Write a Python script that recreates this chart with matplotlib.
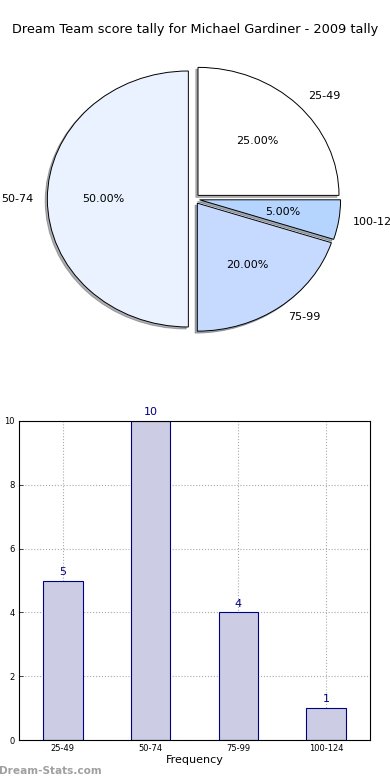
import matplotlib
matplotlib.use("Agg")
import matplotlib.pyplot as plt
import numpy as np

title = "Dream Team score tally for Michael Gardiner - 2009 tally"
categories = ["25-49", "50-74", "75-99", "100-124"]
counts = [5, 10, 4, 1]
pie_colors = ["#FFFFFF", "#EBF2FF", "#C6D9FF", "#B5D5FF"]

W, H = 390, 780
fig = plt.figure(figsize=(W / 100, H / 100), dpi=100)

fig.text(0.5, 1 - 30 / H, title, ha="center", va="center", fontsize=9.3)

# Pie axes (non-equal aspect, like old matplotlib)
cx, cy = 194, H - 199
rx, ry = 141, 128
ax_b, ax_t = 420, 740
axp = fig.add_axes([0, ax_b / H, 1, (ax_t - ax_b) / H])
axp.pie(counts, labels=categories, colors=pie_colors, explode=[0.04] * 4,
        autopct="%1.2f%%", shadow={"ox": -0.011, "oy": -0.011, "shade": 0.6},
        startangle=0,
        wedgeprops=dict(edgecolor="black", linewidth=0.7),
        textprops=dict(fontsize=8))
axp.set_aspect("auto")
axp.set_xlim(-cx / rx, (W - cx) / rx)
axp.set_ylim((ax_b - cy) / ry, (ax_t - cy) / ry)
axp.axis("off")

# Bar axes
ax = fig.add_axes([19 / W, 40 / H, 351 / W, 319 / H])
x = np.arange(len(categories))
ax.bar(x, counts, width=0.45, color="#CCCCE5", edgecolor="#000080", linewidth=0.8, zorder=2)
for xi, c in zip(x, counts):
    ax.text(xi, c + 0.12, str(c), ha="center", va="bottom", fontsize=8, color="#000080")
ax.set_xlim(-0.5, 3.5)
ax.set_ylim(0, 10)
ax.set_xticks(x)
ax.set_xticklabels(categories)
ax.set_yticks(range(0, 11, 2))
ax.tick_params(labelsize=6, direction="in", length=3, width=0.5, pad=3)
ax.grid(True, linestyle=":", color="#AAAAAA", linewidth=0.8, zorder=0)
ax.set_axisbelow(True)
ax.set_xlabel("Frequency", fontsize=8, labelpad=1)
ax.set_ylabel("Occurrences", fontsize=8)
ax.yaxis.set_label_coords(-0.048, 0.5)
for s in ax.spines.values():
    s.set_linewidth(0.8)

fig.text(-0.002, 9 / H, "Dream-Stats.com", ha="left", va="center", fontsize=7.6,
         color="#A0A0A0", fontweight="bold")

fig.savefig("out.png", dpi=100)
